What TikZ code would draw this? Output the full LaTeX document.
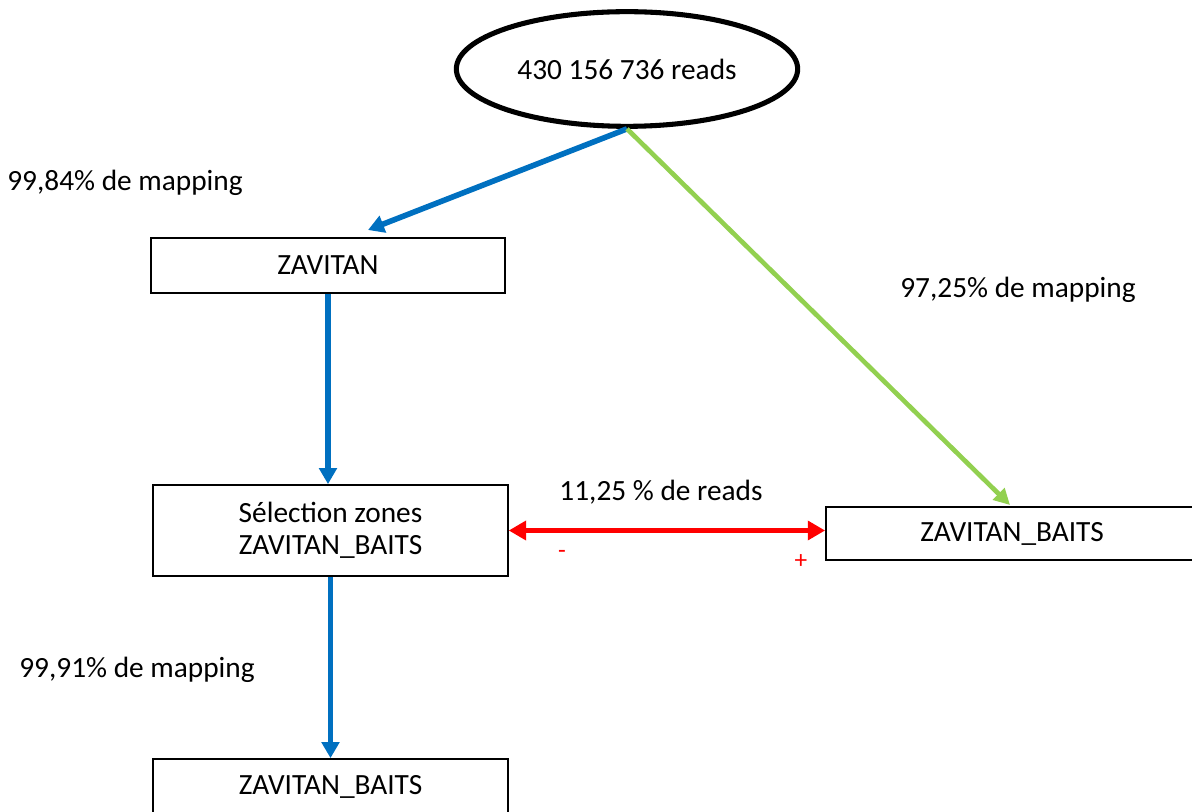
\documentclass[tikz,border=0pt]{standalone}
\usepackage{fontspec}
\setmainfont{Carlito}
\usetikzlibrary{shapes.geometric,arrows.meta}
\definecolor{oblue}{HTML}{0070C0}
\definecolor{ogreen}{HTML}{92D050}
\definecolor{ored}{HTML}{FF0000}
\begin{document}
\begin{tikzpicture}[x=0.75pt,y=-0.75pt,
  every node/.style={font=\fontsize{22}{24}\selectfont, inner sep=0pt},
  box/.style={draw=black, line width=1.3pt, rectangle, minimum width=266pt, align=center},
  barrow/.style={draw=oblue, line width=4.2pt, -{Triangle[length=12pt,width=13pt]}},
  garrow/.style={draw=ogreen, line width=3.5pt, -{Triangle[length=12pt,width=12pt]}},
  rarrow/.style={draw=ored, line width=4.2pt, {Triangle[length=13pt,width=14pt]}-{Triangle[length=13pt,width=14pt]}},
  lab/.style={text=black},
  sign/.style={text=ored, font=\fontsize{19}{21}\selectfont}
]
\useasboundingbox (0,0) rectangle (1192,812);
\clip (0,0) rectangle (1192,812);
\node[ellipse, draw=black, line width=3.8pt, minimum width=256pt, minimum height=86pt] (e) at (627,69) {430 156 736 reads};
\node[box, minimum height=41.25pt] (z) at (328,265.5) {ZAVITAN};
\node[box, minimum height=68.25pt] (s) at (330.5,530.5) {Sélection zones\\ZAVITAN\_BAITS};
\node[box, minimum width=279pt, minimum height=39.75pt] (rb) at (1012,533.5) {ZAVITAN\_BAITS};
\node[box, minimum height=41.25pt] (b) at (330.5,786.5) {ZAVITAN\_BAITS};
\coordinate (tip1) at (368,230);
\coordinate (tip2) at (1010,505);
\draw[barrow] (e.south) -- (tip1);
\draw[garrow] (e.south) -- (tip2);
\draw[barrow] (z.south) -- (z.south |- s.north);
\draw[barrow] (s.south) -- (b.north);
\draw[rarrow] (s.east) -- (s.east -| rb.west);
\node[lab] (l1) at (125,183) {99,84\% de mapping};
\node[lab] (l2) at (1018,290) {97,25\% de mapping};
\node[lab] (l3) at (661,492) {11,25 \% de reads};
\node[lab] (l4) at (137,670) {99,91\% de mapping};
\node[sign] (m) at (562,554) {-};
\node[sign] (p) at (801,562) {+};
\end{tikzpicture}
\end{document}
